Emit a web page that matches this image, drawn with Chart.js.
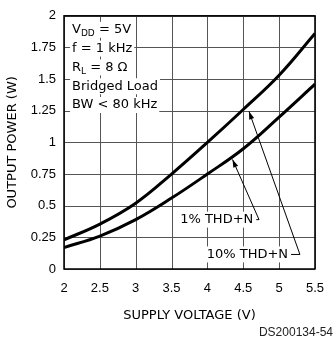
<!DOCTYPE html>
<html>
<head>
<meta charset="utf-8">
<script src="https://cdn.jsdelivr.net/npm/chart.js@4.4.1/dist/chart.umd.min.js"></script>
<style>
  html, body { margin: 0; padding: 0; background: #fff; }
  #wrap { width: 336px; height: 343px; position: relative; }
</style>
</head>
<body>
<div id="wrap"><canvas id="chart"></canvas></div>
<script>
// supply voltage (V) and output power (W)
const voltage = [2, 2.5, 3, 3.5, 4, 4.5, 5, 5.5];
const thd1 = [0.17, 0.26, 0.39, 0.56, 0.75, 0.95, 1.2, 1.46];
const thd10 = [0.23, 0.355, 0.52, 0.75, 1.0, 1.26, 1.53, 1.86];
const xTicks = ['2', '2.5', '3', '3.5', '4', '4.5', '5', '5.5'];
const yTicks = ['0', '0.25', '0.5', '0.75', '1', '1.25', '1.5', '1.75', '2'];
const seriesNames = ['1% THD+N', '10% THD+N'];

const SANS = "'DejaVu Sans', sans-serif";
const NUM = "'Liberation Sans', Arial, sans-serif";

function pts(vals) {
  return voltage.map(function (v, i) { return { x: v, y: vals[i] }; });
}

// text line with optional subscripts, on a white patch so grid lines break
function richText(ctx, segs, x, yMid) {
  let w = 0;
  segs.forEach(function (s) {
    ctx.font = s.sub ? '9px ' + SANS : '13px ' + SANS;
    s.w = ctx.measureText(s.t).width;
    w += s.w;
  });
  ctx.fillStyle = '#fff';
  ctx.fillRect(x - 2, yMid - 8, w + 4, 16);
  ctx.fillStyle = '#000';
  ctx.textBaseline = 'middle';
  ctx.textAlign = 'left';
  let cx = x;
  segs.forEach(function (s) {
    ctx.font = s.sub ? '9px ' + SANS : '13px ' + SANS;
    ctx.fillText(s.t, cx, s.sub ? yMid + 4 : yMid);
    cx += s.w;
  });
  return w;
}

function arrow(ctx, x0, y0, x1, y1) {
  ctx.beginPath();
  ctx.moveTo(x0, y0);
  ctx.lineTo(x1, y1);
  ctx.stroke();
  const a = Math.atan2(y1 - y0, x1 - x0);
  const len = 8, half = 2.6;
  ctx.beginPath();
  ctx.moveTo(x1, y1);
  ctx.lineTo(x1 - len * Math.cos(a) + half * Math.sin(a), y1 - len * Math.sin(a) - half * Math.cos(a));
  ctx.lineTo(x1 - len * Math.cos(a) - half * Math.sin(a), y1 - len * Math.sin(a) + half * Math.cos(a));
  ctx.closePath();
  ctx.fill();
}

const notes = {
  id: 'notes',
  beforeDatasetsDraw(chart) {
    const ctx = chart.ctx, x = chart.scales.x, y = chart.scales.y, area = chart.chartArea;
    ctx.save();

    // grid from the scales' own ticks
    ctx.strokeStyle = '#555';
    ctx.lineWidth = 1;
    ctx.beginPath();
    x.ticks.forEach(function (t) {
      const px = Math.round(x.getPixelForValue(t.value)) + 0.5;
      ctx.moveTo(px, area.top);
      ctx.lineTo(px, area.bottom);
    });
    y.ticks.forEach(function (t) {
      const py = Math.round(y.getPixelForValue(t.value)) + 0.5;
      ctx.moveTo(area.left, py);
      ctx.lineTo(area.right, py);
    });
    ctx.stroke();

    // test conditions box
    const cond = [
      [{ t: 'V' }, { t: 'DD', sub: true }, { t: ' = 5V' }],
      [{ t: 'f = 1 kHz' }],
      [{ t: 'R' }, { t: 'L', sub: true }, { t: ' = 8 \u03A9' }],
      [{ t: 'Bridged Load' }],
      [{ t: 'BW < 80 kHz' }]
    ];
    cond.forEach(function (segs, i) {
      richText(ctx, segs, area.left + 8, area.top + 14 + i * 18.8);
    });

    // curve labels with leader arrows
    ctx.lineWidth = 1;
    const leaders = [
      { name: seriesNames[0], at: [3.62, 0.39], elbow: 4.72, tip: [4.35, 0.865] },
      { name: seriesNames[1], at: [3.99, 0.115], elbow: 5.29, tip: [4.58, 1.245] }
    ];
    leaders.forEach(function (l) {
      const tx = x.getPixelForValue(l.at[0]), ty = y.getPixelForValue(l.at[1]);
      const w = richText(ctx, [{ t: l.name }], tx, ty);
      const ex = x.getPixelForValue(l.elbow);
      ctx.strokeStyle = '#000';
      ctx.fillStyle = '#000';
      ctx.beginPath();
      ctx.moveTo(tx + w + 3, ty);
      ctx.lineTo(ex, ty);
      ctx.stroke();
      arrow(ctx, ex, ty, x.getPixelForValue(l.tip[0]), y.getPixelForValue(l.tip[1]));
    });
    ctx.restore();
  },
  afterDraw(chart) {
    const ctx = chart.ctx, area = chart.chartArea;
    ctx.save();
    ctx.strokeStyle = '#000';
    ctx.lineWidth = 1.5;
    ctx.strokeRect(area.left, area.top, area.right - area.left, area.bottom - area.top);
    ctx.fillStyle = '#222';
    ctx.font = '12px ' + NUM;
    ctx.textAlign = 'right';
    ctx.textBaseline = 'middle';
    ctx.fillText('DS200134-54', 333, 333);
    ctx.restore();
  }
};

new Chart(document.getElementById('chart'), {
  type: 'line',
  data: {
    datasets: [
      { label: seriesNames[0], data: pts(thd1) },
      { label: seriesNames[1], data: pts(thd10) }
    ]
  },
  options: {
    responsive: true,
    maintainAspectRatio: false,
    animation: false,
    events: [],
    layout: { padding: { left: 5, right: 10, top: 9, bottom: 20 } },
    elements: {
      line: { borderColor: '#000', borderWidth: 3, tension: 0.4, fill: false },
      point: { radius: 0 }
    },
    plugins: { legend: { display: false }, tooltip: { enabled: false } },
    scales: {
      x: {
        type: 'linear', min: 2, max: 5.5,
        afterFit: function (s) { s.height = 54; },
        grid: { display: false, drawTicks: false },
        border: { display: false },
        ticks: {
          stepSize: 0.5, color: '#000', padding: 12, font: { family: NUM, size: 13 },
          callback: function (v, i) { return xTicks[i]; }
        },
        title: { display: true, text: 'SUPPLY VOLTAGE (V)', color: '#000', padding: 0, font: { family: SANS, size: 13 } }
      },
      y: {
        min: 0, max: 2,
        afterFit: function (s) { s.width = 59; },
        grid: { display: false, drawTicks: false },
        border: { display: false },
        ticks: {
          stepSize: 0.25, color: '#000', padding: 8, font: { family: NUM, size: 13 },
          callback: function (v, i) { return yTicks[i]; }
        },
        title: { display: true, text: 'OUTPUT POWER (W)', color: '#000', padding: 0, font: { family: SANS, size: 13 } }
      }
    }
  },
  plugins: [notes]
});
</script>
</body>
</html>
